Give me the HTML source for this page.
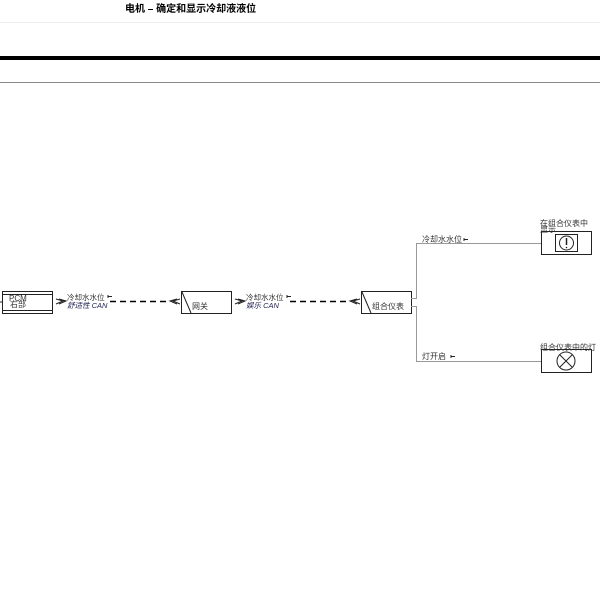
<!DOCTYPE html>
<html><head><meta charset="utf-8"><style>
body{margin:0;width:600px;height:601px;background:#fff;overflow:hidden;font-family:"Liberation Sans","Noto Sans CJK SC",sans-serif}
</style></head><body>
<svg width="600" height="601" xmlns="http://www.w3.org/2000/svg" style="position:absolute;left:0;top:0" font-family="Liberation Sans, Noto Sans CJK SC, sans-serif">
<text x="125" y="12" font-size="10" font-weight="bold">电机 – 确定和显示冷却液液位</text>
<line x1="0" y1="22.5" x2="600" y2="22.5" stroke="#eee"/>
<rect x="0" y="56" width="600" height="4" fill="#000"/>
<line x1="0" y1="82.5" x2="600" y2="82.5" stroke="#888"/>
<g fill="none" stroke="#222" stroke-width="1">
<line x1="0" y1="302" x2="2" y2="302"/>
<rect x="2.5" y="291.5" width="50" height="22"/>
<line x1="2.5" y1="294.5" x2="52.5" y2="294.5"/>
<line x1="2.5" y1="310.5" x2="52.5" y2="310.5"/>
<rect x="181.5" y="291.5" width="50" height="22"/>
<line x1="182" y1="292" x2="191" y2="313"/>
<rect x="361.5" y="291.5" width="50" height="22"/>
<line x1="362" y1="292" x2="371" y2="313"/>
<line x1="110" y1="301.5" x2="170" y2="301.5" stroke-dasharray="6,4" stroke-width="1.5" stroke="#000"/>
<line x1="290" y1="301.5" x2="350" y2="301.5" stroke-dasharray="6,4" stroke-width="1.5" stroke="#000"/>
<path d="M56 299 L63 301 L56 304 M59 299 L66 301 L59 304"/>
<path d="M180 299 L173 301 L180 304 M177 299 L170 301 L177 304"/>
<path d="M235 299 L242 301 L235 304 M238 299 L245 301 L238 304"/>
<path d="M360 299 L353 301 L360 304 M357 299 L350 301 L357 304"/>
<rect x="541.5" y="231.5" width="50" height="23"/>
<rect x="555.5" y="234.5" width="22" height="17"/>
<circle cx="566.5" cy="243" r="7"/>
<rect x="541.5" y="349.5" width="50" height="23"/>
<circle cx="566" cy="361" r="9"/>
<line x1="560" y1="355" x2="572" y2="367"/><line x1="572" y1="355" x2="560" y2="367"/>
</g>
<g fill="none" stroke="#999">
<path d="M411 298.5 H416.5 V243.5 H541"/>
<path d="M411 306.5 H416.5 V361.5 H541"/>
</g>
<line x1="566.5" y1="238" x2="566.5" y2="245" stroke="#222" stroke-width="1.5"/>
<circle cx="566.5" cy="247.5" r="0.8" fill="#222"/>
<g font-size="8" fill="#333">
<text x="9" y="301">PCM</text><text x="10" y="307">右部</text>
<text x="192" y="309">网关</text>
<text x="372" y="309">组合仪表</text>
<text x="67" y="300" font-size="7.5">冷却水水位</text><text x="67" y="308" font-style="italic" fill="#225" font-size="7.5">舒适性 CAN</text>
<text x="246" y="300" font-size="7.5">冷却水水位</text><text x="246" y="308" font-style="italic" fill="#225" font-size="7.5">娱乐 CAN</text>
<text x="422" y="242">冷却水水位</text>
<text x="422" y="359">灯开启</text>
<text x="540" y="226">在组合仪表中</text><text x="540" y="232">显示</text>
<text x="540" y="350">组合仪表中的灯</text>
</g>
<g stroke="#222"><path d="M108 295v3M108 296.5h4M287 295v3M287 296.5h4M464 238v3M464 239.5h4M451 355v3M451 356.5h4"/></g>
</svg>
</body></html>
